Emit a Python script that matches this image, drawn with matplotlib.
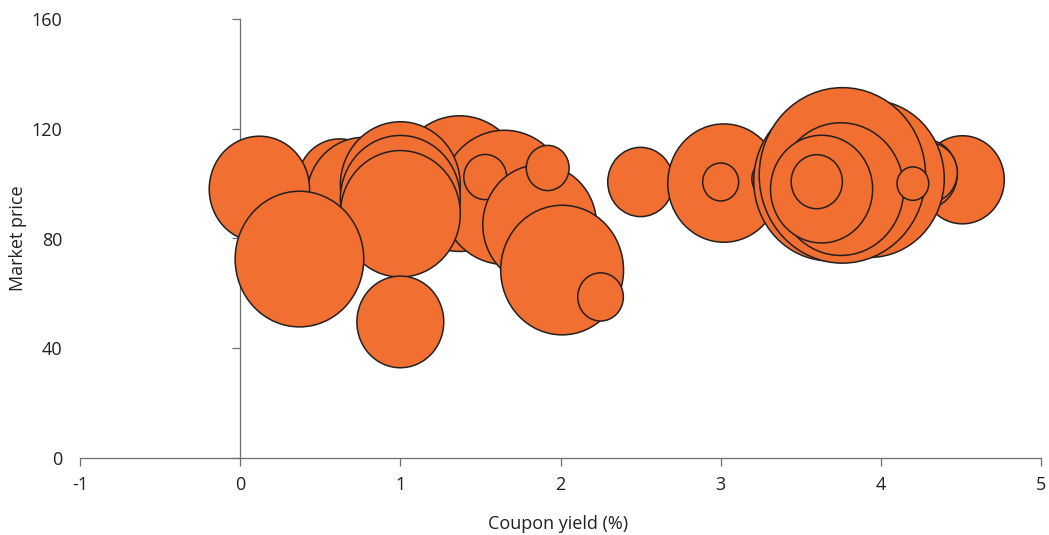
import matplotlib
matplotlib.use("Agg")
import matplotlib.pyplot as plt
from matplotlib.path import Path
from matplotlib.transforms import Affine2D

plt.rcParams['font.family'] = ['Open Sans', 'DejaVu Sans']

# coupon yield (%), market price, issue size (bubble area) - listed back to front
coupon = [1.37, 1.65, 0.62, 0.77, 1.00, 1.00, 1.00, 0.12, 0.37, 1.00,
          1.53, 1.87, 1.92, 2.01, 2.25,
          2.50, 3.02, 3.00, 3.31,
          4.51, 4.27, 4.30, 3.68, 3.93, 3.76, 3.75, 3.63, 3.60, 4.20]
price = [100.0, 95.0, 100.0, 95.0, 99.5, 94.5, 89.0, 98.0, 72.5, 49.6,
         102.4, 85.0, 105.7, 68.5, 58.7,
         100.6, 100.2, 100.6, 101.7,
         101.4, 103.5, 104.0, 101.0, 101.8, 103.0, 98.0, 98.0, 100.7, 100.0]
issue_size = [46, 45, 20, 36, 40, 40, 40, 28, 46, 21,
              5.1, 36, 5.1, 42, 5.8,
              12, 35, 3.6, 3.8,
              19.4, 12.3, 9, 64, 62, 77, 44, 29, 7.3, 2.8]

x_ticks = [-1, 0, 1, 2, 3, 4, 5]
y_ticks = [0, 40, 80, 120, 160]

orange = '#F26F32'
dark = '#231F20'
grey = '#6d6d6d'

# slightly tall circle, like the original picture
bubble = Path.unit_circle().transformed(Affine2D().scale(1 / 1.055, 1))

fig = plt.figure(figsize=(10.49, 5.35), dpi=100)
ax = fig.add_axes([80 / 1049, 77 / 535, 961 / 1049, 439 / 535])

ax.scatter(coupon, price, s=[v * 207.4 for v in issue_size], marker=bubble,
           color=orange, edgecolor=dark, linewidth=1.1, zorder=3)

ax.set_xlim(-1, 5)
ax.set_ylim(0, 160)
ax.set_xticks(x_ticks)
ax.set_xticklabels([str(t) for t in x_ticks])
ax.set_yticks(y_ticks)

ax.spines['top'].set_visible(False)
ax.spines['right'].set_visible(False)
ax.spines['left'].set_position(('data', 0))
for side in ['left', 'bottom']:
    ax.spines[side].set_color(grey)
    ax.spines[side].set_linewidth(0.9)

ax.tick_params(axis='x', direction='out', length=6, width=0.9, color=grey,
               labelsize=13, labelcolor=dark, pad=7)
ax.tick_params(axis='y', direction='out', length=6, width=0.9, color=grey,
               labelsize=13, labelcolor=dark, pad=122)

ax.set_xlabel('Coupon yield (%)', fontsize=13, color=dark)
ax.set_ylabel('Market price', fontsize=13, color=dark)
ax.xaxis.set_label_coords(0.497, -0.13)
ax.yaxis.set_label_coords(-0.055, 0.5)

fig.savefig('out.png', dpi=100)
